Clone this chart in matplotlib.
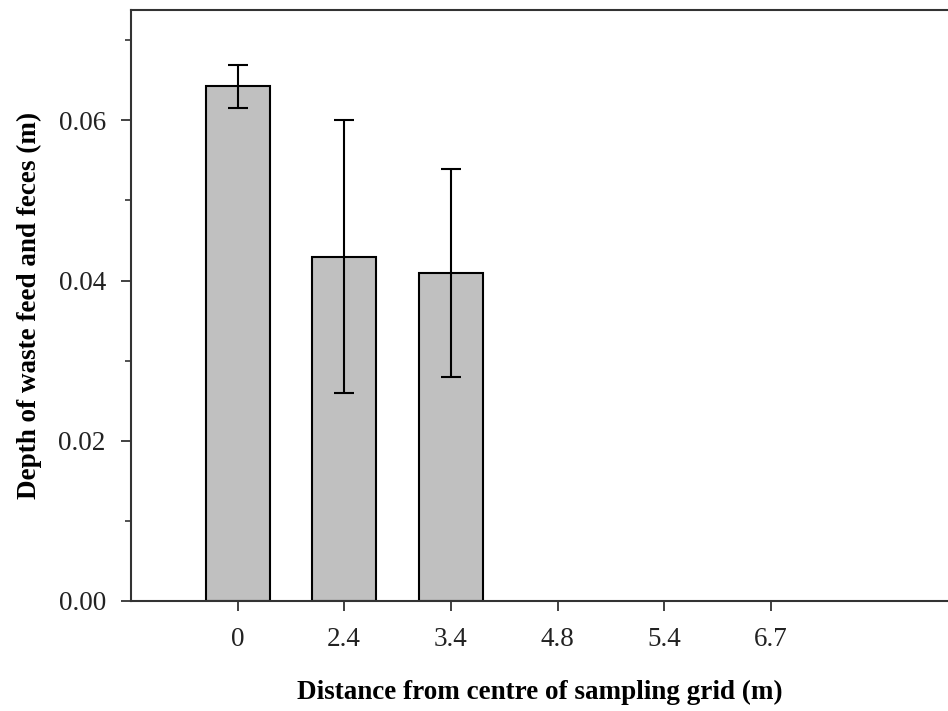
import numpy as np
import matplotlib.pyplot as plt
from matplotlib.ticker import MultipleLocator

# ---- data ----
distances = ["0", "2.4", "3.4", "4.8", "5.4", "6.7"]
depth = [0.06425, 0.0430, 0.0409, np.nan, np.nan, np.nan]   # m
depth_err = [0.00265, 0.0170, 0.0130, np.nan, np.nan, np.nan]

plt.rcParams["font.family"] = ["Liberation Serif", "DejaVu Serif"]

fig = plt.figure(figsize=(9.48, 7.11), dpi=100)
ax = fig.add_axes([0.138, 0.155, 0.862, 0.831])

x = np.arange(len(distances))
ok = ~np.isnan(np.array(depth))
ax.bar(x[ok], np.array(depth)[ok], width=0.6, color="#c0c0c0",
       edgecolor="black", linewidth=1.5, zorder=2)
ax.errorbar(x[ok], np.array(depth)[ok], yerr=np.array(depth_err)[ok],
            fmt="none", ecolor="black", elinewidth=1.5, capsize=7,
            capthick=1.5, zorder=3)

ax.set_xlim(-1, 6.66)
ax.set_ylim(0, 0.0738)
ax.set_xticks(x)
ax.set_xticklabels(distances)
ax.yaxis.set_major_locator(MultipleLocator(0.02))
ax.yaxis.set_minor_locator(MultipleLocator(0.01))
ax.yaxis.set_major_formatter(plt.FormatStrFormatter("%.2f"))

for side in ["left", "bottom", "top"]:
    ax.spines[side].set_linewidth(1.5)
    ax.spines[side].set_color("#333333")
ax.spines["right"].set_visible(False)

ax.tick_params(axis="both", which="major", direction="out", length=7,
               width=1.3, labelsize=19.5, color="#333333", labelcolor="#222222")
ax.tick_params(axis="y", which="major", pad=11)
ax.tick_params(axis="x", which="major", pad=12)
ax.tick_params(axis="y", which="minor", direction="out", length=4,
               width=1.2, color="#333333")
ax.tick_params(axis="x", which="minor", bottom=False)

ax.set_xlabel("Distance from centre of sampling grid (m)", fontsize=19.5,
              fontweight="bold", labelpad=20)
ax.set_ylabel("Depth of waste feed and feces (m)", fontsize=19.5,
              fontweight="bold", labelpad=12)

fig.savefig("out.png", dpi=100)
